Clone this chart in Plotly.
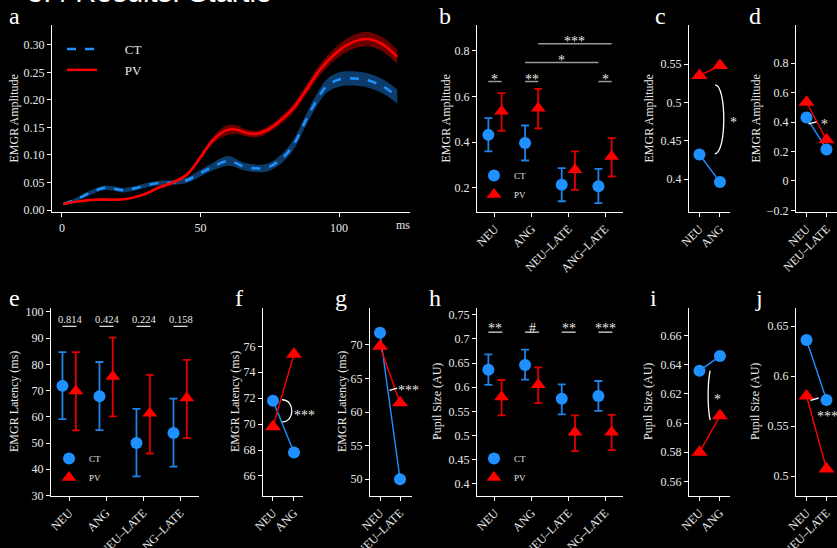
import plotly.graph_objects as go

W, H = 837, 548
TXT = "#e8e8e8"
CT_C = "#1E90FF"
PV_C = "#FF0000"
CT_ERR = "#1E82E6"
PV_ERR = "#E00000"
SERIF = "'Liberation Serif', 'DejaVu Serif', serif"

# ---------------- data ----------------
# panel a: time courses
time_ct = [0.5, 5, 10, 15, 18.5, 22, 26, 30.5, 35, 40, 45, 50, 54.5, 59.5, 62, 65, 69, 74, 79, 83.5, 88, 92, 95.5, 100, 105, 110, 116, 121]
ct_mean = [0.011, 0.019, 0.031, 0.040, 0.039, 0.036, 0.039, 0.045, 0.049, 0.050, 0.054, 0.067, 0.079, 0.089, 0.087, 0.080, 0.076, 0.077, 0.092, 0.118, 0.163, 0.200, 0.225, 0.237, 0.239, 0.236, 0.224, 0.206]
ct_sem = [0.002, 0.003, 0.004, 0.004, 0.004, 0.004, 0.004, 0.004, 0.004, 0.004, 0.005, 0.006, 0.007, 0.009, 0.008, 0.007, 0.007, 0.007, 0.008, 0.009, 0.010, 0.011, 0.012, 0.013, 0.013, 0.013, 0.013, 0.013]
time_pv = [0.5, 5, 10, 15, 21, 26, 30.5, 35, 40, 45, 50, 54.5, 59.5, 63, 66.5, 70, 74, 79, 83.5, 88, 93, 98, 103, 107.5, 111, 116, 121]
pv_mean = [0.011, 0.015, 0.018, 0.019, 0.019, 0.023, 0.030, 0.041, 0.050, 0.064, 0.096, 0.127, 0.145, 0.146, 0.140, 0.138, 0.145, 0.163, 0.185, 0.217, 0.254, 0.281, 0.300, 0.309, 0.310, 0.300, 0.278]
pv_sem = [0.001, 0.002, 0.002, 0.002, 0.002, 0.002, 0.002, 0.003, 0.003, 0.004, 0.005, 0.006, 0.009, 0.008, 0.006, 0.006, 0.006, 0.007, 0.008, 0.009, 0.010, 0.011, 0.012, 0.013, 0.013, 0.013, 0.013]

conds = ["NEU", "ANG", "NEU\u2013LATE", "ANG\u2013LATE"]

# panel b: EMGR amplitude
amp_ct = [0.432, 0.396, 0.214, 0.207]
amp_ct_lo = [0.360, 0.320, 0.142, 0.134]
amp_ct_hi = [0.505, 0.473, 0.287, 0.283]
amp_pv = [0.535, 0.548, 0.280, 0.338]
amp_pv_lo = [0.450, 0.460, 0.192, 0.250]
amp_pv_hi = [0.614, 0.633, 0.360, 0.418]
b_pair_sig = ["*", "**", "", "*"]
b_long_sig = ["*", "***"]

# panel e: EMGR latency
lat_ct = [71.8, 67.8, 50.0, 53.8]
lat_ct_lo = [59.1, 54.9, 37.3, 41.0]
lat_ct_hi = [84.7, 80.9, 63.0, 66.9]
lat_pv = [69.8, 75.4, 61.4, 67.2]
lat_pv_lo = [54.8, 60.2, 46.0, 51.9]
lat_pv_hi = [84.7, 90.2, 76.0, 81.7]
e_pvals = ["0.814", "0.424", "0.224", "0.158"]

# panel h: pupil size
pup_ct = [0.636, 0.646, 0.576, 0.582]
pup_ct_lo = [0.605, 0.616, 0.544, 0.551]
pup_ct_hi = [0.668, 0.678, 0.606, 0.613]
pup_pv = [0.580, 0.605, 0.507, 0.507]
pup_pv_lo = [0.542, 0.567, 0.468, 0.470]
pup_pv_hi = [0.615, 0.641, 0.542, 0.543]
h_sig = ["**", "#", "**", "***"]

# tick labels
ticks_a = [0, 0.05, 0.10, 0.15, 0.20, 0.25, 0.30]
ticks_b = [0.2, 0.4, 0.6, 0.8]
ticks_c = [0.4, 0.45, 0.5, 0.55]
ticks_c_txt = ["0.4", "0.45", "0.5", "0.55"]
ticks_d = [-0.2, 0, 0.2, 0.4, 0.6, 0.8]
ticks_d_txt = ["\u22120.2", "0", "0.2", "0.4", "0.6", "0.8"]
ticks_e = [30, 40, 50, 60, 70, 80, 90, 100]
ticks_f = [66, 68, 70, 72, 74, 76]
ticks_g = [50, 55, 60, 65, 70]
ticks_h = [0.4, 0.45, 0.5, 0.55, 0.6, 0.65, 0.7, 0.75]
ticks_h_txt = ["0.4", "0.45", "0.5", "0.55", "0.6", "0.65", "0.7", "0.75"]
ticks_i = [0.56, 0.58, 0.6, 0.62, 0.64, 0.66]
ticks_i_txt = ["0.56", "0.58", "0.6", "0.62", "0.64", "0.66"]
ticks_j = [0.5, 0.55, 0.6, 0.65]
ticks_j_txt = ["0.5", "0.55", "0.6", "0.65"]

OFF = 0.18  # group offset inside category

# ---------------- helpers ----------------
def xdom(x0, x1):
    return [x0 / W, x1 / W]

def ydom(top, bot):
    return [1 - bot / H, 1 - top / H]

def px(x):
    return x / W

def py(y):
    return 1 - y / H

def axis(domain, anchor, rng, **kw):
    d = dict(domain=domain, anchor=anchor, range=rng, showline=True, linecolor="white",
             linewidth=1.3, ticks="outside", tickcolor="white", ticklen=4, tickwidth=1.2,
             showgrid=False, zeroline=False, automargin=False, fixedrange=True,
             tickfont=dict(family=SERIF, size=12, color=TXT))
    d.update(kw)
    return d

fig = go.Figure()

# ---------------- panel a ----------------
ct_hi_band = [m + s for m, s in zip(ct_mean, ct_sem)]
ct_lo_band = [m - s for m, s in zip(ct_mean, ct_sem)]
pv_hi_band = [m + s for m, s in zip(pv_mean, pv_sem)]
pv_lo_band = [m - s for m, s in zip(pv_mean, pv_sem)]

NB = "\u00a0"
fig.add_trace(go.Scatter(x=time_ct, y=ct_hi_band, mode="lines", line=dict(width=0, shape="spline"),
                         showlegend=False, xaxis="x", yaxis="y", hoverinfo="skip"))
fig.add_trace(go.Scatter(x=time_ct, y=ct_lo_band, mode="lines", line=dict(width=0, shape="spline"),
                         fill="tonexty", fillcolor="rgba(30,144,255,0.42)", showlegend=False,
                         xaxis="x", yaxis="y", hoverinfo="skip"))
fig.add_trace(go.Scatter(x=time_ct, y=ct_mean, mode="lines", name=NB * 7 + "CT",
                         line=dict(color=CT_C, width=2.5, dash="dash", shape="spline"),
                         xaxis="x", yaxis="y", legend="legend", legendgroup="ct"))
fig.add_trace(go.Scatter(x=time_pv, y=pv_hi_band, mode="lines", line=dict(width=0, shape="spline"),
                         showlegend=False, xaxis="x", yaxis="y", hoverinfo="skip"))
fig.add_trace(go.Scatter(x=time_pv, y=pv_lo_band, mode="lines", line=dict(width=0, shape="spline"),
                         fill="tonexty", fillcolor="rgba(255,0,0,0.42)", showlegend=False,
                         xaxis="x", yaxis="y", hoverinfo="skip"))
fig.add_trace(go.Scatter(x=time_pv, y=pv_mean, mode="lines", name=NB * 7 + "PV",
                         line=dict(color=PV_C, width=2.5, shape="spline"),
                         xaxis="x", yaxis="y", legend="legend", legendgroup="pv"))

# ---------------- grouped panels (b, e, h) ----------------
def grouped(xa, ya, ct, ct_lo, ct_hi, pv, pv_lo, pv_hi, leg):
    xs = list(range(len(conds)))
    fig.add_trace(go.Scatter(
        x=[v - OFF for v in xs], y=ct, mode="markers", name="CT",
        marker=dict(color=CT_C, size=12, symbol="circle"),
        error_y=dict(type="data", symmetric=False,
                     array=[h - m for h, m in zip(ct_hi, ct)],
                     arrayminus=[m - l for m, l in zip(ct, ct_lo)],
                     color=CT_ERR, thickness=1.8, width=4),
        xaxis=xa, yaxis=ya, legend=leg, legendgroup=leg + "ct"))
    fig.add_trace(go.Scatter(
        x=[v + OFF for v in xs], y=pv, mode="markers", name="PV",
        marker=dict(color=PV_C, size=13, symbol="triangle-up"),
        error_y=dict(type="data", symmetric=False,
                     array=[h - m for h, m in zip(pv_hi, pv)],
                     arrayminus=[m - l for m, l in zip(pv, pv_lo)],
                     color=PV_ERR, thickness=1.8, width=4),
        xaxis=xa, yaxis=ya, legend=leg, legendgroup=leg + "pv"))

grouped("x2", "y2", amp_ct, amp_ct_lo, amp_ct_hi, amp_pv, amp_pv_lo, amp_pv_hi, "legend2")
grouped("x5", "y5", lat_ct, lat_ct_lo, lat_ct_hi, lat_pv, lat_pv_lo, lat_pv_hi, "legend3")
grouped("x8", "y8", pup_ct, pup_ct_lo, pup_ct_hi, pup_pv, pup_pv_lo, pup_pv_hi, "legend4")

# ---------------- paired panels ----------------
def paired(xa, ya, idx, ct, pv):
    fig.add_trace(go.Scatter(x=[0, 1], y=[ct[i] for i in idx], mode="lines+markers",
                             line=dict(color=CT_C, width=1.4), marker=dict(color=CT_C, size=12),
                             showlegend=False, xaxis=xa, yaxis=ya))
    fig.add_trace(go.Scatter(x=[0, 1], y=[pv[i] for i in idx], mode="lines+markers",
                             line=dict(color=PV_C, width=1.4),
                             marker=dict(color=PV_C, size=14, symbol="triangle-up"),
                             showlegend=False, xaxis=xa, yaxis=ya))

paired("x3", "y3", [0, 1], amp_ct, amp_pv)
paired("x4", "y4", [0, 2], amp_ct, amp_pv)
paired("x6", "y6", [0, 1], lat_ct, lat_pv)
paired("x7", "y7", [0, 2], lat_ct, lat_pv)
paired("x9", "y9", [0, 1], pup_ct, pup_pv)
paired("x10", "y10", [0, 2], pup_ct, pup_pv)

# ---------------- layout ----------------
cat_kw = dict(tickvals=[0, 1, 2, 3], ticktext=conds, tickangle=-45)
pair1 = dict(tickvals=[0, 1], ticktext=[conds[0], conds[1]], tickangle=-45)
pair2 = dict(tickvals=[0, 1], ticktext=[conds[0], conds[2]], tickangle=-45)

TOP1, BOT1 = 25, 212
TOP2, BOT2 = 308, 496

leg_common = dict(xanchor="left", yanchor="top", bgcolor="rgba(0,0,0,0)", itemwidth=30)

layout = dict(
    width=W, height=H, paper_bgcolor="black", plot_bgcolor="black",
    margin=dict(l=0, r=0, t=0, b=0, autoexpand=False), hovermode=False,
    font=dict(family=SERIF, color=TXT),
    # a
    xaxis=axis(xdom(52, 410), "y", [-3.6, 125.6], tickvals=[0, 50, 100]),
    yaxis=axis(ydom(TOP1, BOT1), "x", [-0.0036, 0.336], tickvals=ticks_a, tickformat=".2f"),
    # b
    xaxis2=axis(xdom(477, 623), "y2", [-0.49, 3.49], **cat_kw),
    yaxis2=axis(ydom(TOP1, BOT1), "x2", [0.095, 0.912], tickvals=ticks_b, tickformat=".1f"),
    # c
    xaxis3=axis(xdom(689, 730), "y3", [-0.51, 1.49], **pair1),
    yaxis3=axis(ydom(TOP1, BOT1), "x3", [0.357, 0.601], tickvals=ticks_c, ticktext=ticks_c_txt),
    # d
    xaxis4=axis(xdom(796, 837), "y4", [-0.525, 1.525], **pair2),
    yaxis4=axis(ydom(TOP1, BOT1), "x4", [-0.211, 1.06], tickvals=ticks_d, ticktext=ticks_d_txt),
    # e
    xaxis5=axis(xdom(51, 199), "y5", [-0.49, 3.51], **cat_kw),
    yaxis5=axis(ydom(TOP2, BOT2), "x5", [29.8, 101.5], tickvals=ticks_e),
    # f
    xaxis6=axis(xdom(263, 303), "y6", [-0.476, 1.43], **pair1),
    yaxis6=axis(ydom(TOP2, BOT2), "x6", [64.45, 78.96], tickvals=ticks_f),
    # g
    xaxis7=axis(xdom(370, 412), "y7", [-0.5, 1.6], **pair2),
    yaxis7=axis(ydom(TOP2, BOT2), "x7", [47.5, 75.5], tickvals=ticks_g),
    # h
    xaxis8=axis(xdom(477, 623), "y8", [-0.49, 3.49], **cat_kw),
    yaxis8=axis(ydom(TOP2, BOT2), "x8", [0.375, 0.764], tickvals=ticks_h, ticktext=ticks_h_txt),
    # i
    xaxis9=axis(xdom(689, 730), "y9", [-0.51, 1.49], **pair1),
    yaxis9=axis(ydom(TOP2, BOT2), "x9", [0.550, 0.679], tickvals=ticks_i, ticktext=ticks_i_txt),
    # j
    xaxis10=axis(xdom(796, 837), "y10", [-0.525, 1.525], **pair2),
    yaxis10=axis(ydom(TOP2, BOT2), "x10", [0.480, 0.668], tickvals=ticks_j, ticktext=ticks_j_txt),
    legend=dict(x=px(62), y=py(34), font=dict(family=SERIF, size=13, color=TXT), tracegroupgap=1, **leg_common),
    legend2=dict(x=px(474), y=py(161), font=dict(family=SERIF, size=9, color=TXT), tracegroupgap=0, **leg_common),
    legend3=dict(x=px(49), y=py(444), font=dict(family=SERIF, size=9, color=TXT), tracegroupgap=0, **leg_common),
    legend4=dict(x=px(474), y=py(444), font=dict(family=SERIF, size=9, color=TXT), tracegroupgap=0, **leg_common),
)
fig.update_layout(**layout)

ann = []
shapes = []

def note(text, x, y, size=14):
    ann.append(dict(text=text, x=px(x), y=py(y), xref="paper", yref="paper", xanchor="center",
                    yanchor="middle", showarrow=False, font=dict(family=SERIF, size=size, color=TXT)))

# title (cut at top) and panel letters
ann.append(dict(text="3.4 Results: Startle", x=px(25), y=py(10), xref="paper", yref="paper",
                xanchor="left", yanchor="bottom", showarrow=False,
                font=dict(family="Liberation Sans", size=29, color="white")))
letters = [("a", 7, 16), ("b", 437, 16), ("c", 653, 16), ("d", 747, 16),
           ("e", 7, 298), ("f", 233, 298), ("g", 333, 298), ("h", 427, 298), ("i", 648, 298), ("j", 753, 298)]
for t, lx, ly in letters:
    ann.append(dict(text=t, x=px(lx), y=py(ly), xref="paper", yref="paper", xanchor="left",
                    yanchor="middle", showarrow=False, font=dict(family=SERIF, size=24, color="white")))

# axis titles
ytitles = [("EMGR Amplitude", 13, TOP1, BOT1), ("EMGR Amplitude", 445, TOP1, BOT1),
           ("EMGR Amplitude", 648, TOP1, BOT1), ("EMGR Amplitude", 755, TOP1, BOT1),
           ("EMGR Latency (ms)", 14, TOP2, BOT2), ("EMGR Latency (ms)", 235, TOP2, BOT2),
           ("EMGR Latency (ms)", 342, TOP2, BOT2), ("Pupil Size (AU)", 437, TOP2, BOT2),
           ("Pupil Size (AU)", 648, TOP2, BOT2), ("Pupil Size (AU)", 755, TOP2, BOT2)]
for t, tx, top, bot in ytitles:
    ann.append(dict(text=t, x=px(tx), y=py((top + bot) / 2), xref="paper", yref="paper",
                    xanchor="center", yanchor="middle", textangle=-90, showarrow=False,
                    font=dict(family=SERIF, size=12, color=TXT)))

# "ms" label
ann.append(dict(text="ms", x=0.98, y=0, xref="x domain", yref="y domain", xanchor="center",
                yanchor="top", yshift=-4, showarrow=False, font=dict(family=SERIF, size=12, color=TXT)))

GRAY = "#9a9a9a"
# panel b significance
for i, s in enumerate(b_pair_sig):
    if not s:
        continue
    shapes.append(dict(type="line", xref="x2", yref="y2", x0=i - OFF, x1=i + OFF, y0=0.665, y1=0.665,
                       line=dict(color=GRAY, width=1.5)))
    ann.append(dict(text=s, x=i, y=0.665, xref="x2", yref="y2", xanchor="center", yanchor="middle", yshift=2,
                    showarrow=False, font=dict(family=SERIF, size=14, color=TXT)))
long_spec = [(1 - OFF, 3 - OFF, 0.748), (1 + OFF, 3 + OFF, 0.83)]
for s, (x0, x1, yv) in zip(b_long_sig, long_spec):
    shapes.append(dict(type="line", xref="x2", yref="y2", x0=x0, x1=x1, y0=yv, y1=yv,
                       line=dict(color=GRAY, width=1.5)))
    ann.append(dict(text=s, x=(x0 + x1) / 2, y=yv, xref="x2", yref="y2", xanchor="center", yanchor="middle",
                    yshift=2, showarrow=False, font=dict(family=SERIF, size=14, color=TXT)))

# panel e p-values
for i, s in enumerate(e_pvals):
    shapes.append(dict(type="line", xref="x5", yref="y5", x0=i - OFF, x1=i + 0.2, y0=94.5, y1=94.5,
                       line=dict(color=TXT, width=1.2)))
    ann.append(dict(text=s, x=i + 0.03, y=94.5, xref="x5", yref="y5", xanchor="center", yanchor="bottom",
                    yshift=-1, showarrow=False, font=dict(family=SERIF, size=10.5, color=TXT)))

# panel h significance
for i, s in enumerate(h_sig):
    shapes.append(dict(type="line", xref="x8", yref="y8", x0=i - OFF, x1=i + 0.2, y0=0.714, y1=0.714,
                       line=dict(color=TXT, width=1.2)))
    ann.append(dict(text=s, x=i + 0.01, y=0.714, xref="x8", yref="y8", xanchor="center", yanchor="middle",
                    yshift=4, showarrow=False, font=dict(family=SERIF, size=14, color=TXT)))

# arcs / connectors for paired panels
shapes.append(dict(type="path", xref="x3", yref="y3",
                   path="M0.76,0.523 C1.33,0.523 1.33,0.433 0.75,0.433",
                   line=dict(color="white", width=1.3)))
note("*", 733, 122)
shapes.append(dict(type="line", xref="x4", yref="y4", x0=0.1, y0=0.388, x1=0.5, y1=0.402,
                   line=dict(color="white", width=1.3)))
note("*", 824, 124)
shapes.append(dict(type="path", xref="x6", yref="y6",
                   path="M0.43,71.88 C1.05,71.88 1.05,70.18 0.45,70.18",
                   line=dict(color="white", width=1.3)))
note("***", 304, 415)
shapes.append(dict(type="line", xref="x7", yref="y7", x0=0.47, y0=63.23, x1=0.86, y1=63.58,
                   line=dict(color="white", width=1.3)))
note("***", 408, 390)
shapes.append(dict(type="path", xref="x9", yref="y9",
                   path="M0.52,0.636 C0.39,0.627 0.39,0.611 0.52,0.602",
                   line=dict(color="white", width=1.3)))
note("*", 717, 399)
shapes.append(dict(type="line", xref="x10", yref="y10", x0=0.2, y0=0.5757, x1=0.61, y1=0.578,
                   line=dict(color="white", width=1.3)))
note("***", 827, 416)

fig.update_layout(annotations=ann, shapes=shapes)
fig.write_html("out.html", config={"displayModeBar": False},
               post_script="document.body.style.margin='0';document.body.style.background='black';")
